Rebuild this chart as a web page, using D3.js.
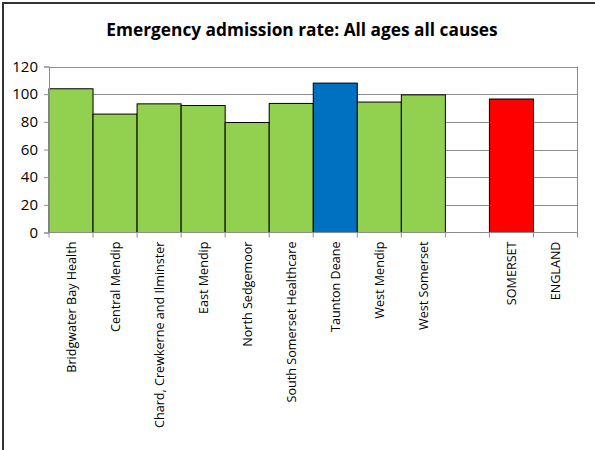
<!DOCTYPE html>
<html><head><meta charset="utf-8">
<script src="https://cdn.jsdelivr.net/npm/d3@7"></script>
<style>body{margin:0;background:#fff}svg{display:block}</style>
</head><body>
<script>
const categories = ["Bridgwater Bay Health","Central Mendip","Chard, Crewkerne and Ilminster","East Mendip","North Sedgemoor","South Somerset Healthcare","Taunton Deane","West Mendip","West Somerset","","SOMERSET","ENGLAND"];
const values = [103.9, 85.6, 93.0, 91.8, 79.5, 93.3, 108.0, 94.3, 99.5, null, 96.5, null];
const barColors = ["#92D050","#92D050","#92D050","#92D050","#92D050","#92D050","#0070C0","#92D050","#92D050","none","#FF0000","none"];
const yTicks = [0,20,40,60,80,100,120];
const title = "Emergency admission rate: All ages all causes";

const W=595,H=450;
const m={left:49,right:577.5,top:66.5,bottom:232.5};
const svg=d3.select("body").append("svg").attr("width",W).attr("height",H);
svg.append("rect").attr("x",3).attr("y",3).attr("width",W+20).attr("height",H+20).attr("fill","#fff").attr("stroke","#333").attr("stroke-width",2);
svg.append("text").attr("x",302).attr("y",36).attr("text-anchor","middle")
  .attr("font-family","'Open Sans',sans-serif").attr("font-weight","bold").attr("font-size",17.3).text(title);

const x=d3.scaleBand().domain(d3.range(categories.length)).range([m.left,m.right]).padding(0);
const y=d3.scaleLinear().domain([0,120]).range([m.bottom,m.top]);

// gridlines
svg.append("g").selectAll("line").data(yTicks.filter(t=>t>0)).join("line")
  .attr("x1",m.left).attr("x2",m.right).attr("y1",d=>Math.round(y(d))+0.5).attr("y2",d=>Math.round(y(d))+0.5)
  .attr("stroke","#8c8c8c").attr("stroke-width",1);
// right border
svg.append("line").attr("x1",m.right).attr("x2",m.right).attr("y1",m.top).attr("y2",m.bottom).attr("stroke","#8c8c8c");

// bars
svg.append("g").selectAll("rect").data(values.map((v,i)=>({v,i})).filter(d=>d.v!=null)).join("rect")
  .attr("x",d=>x(d.i)).attr("width",x.bandwidth()).attr("y",d=>y(d.v)).attr("height",d=>y(0)-y(d.v))
  .attr("fill",d=>barColors[d.i]).attr("stroke","#000").attr("stroke-width",1);

// y axis
const ya=svg.append("g").attr("transform",`translate(${m.left},0)`)
  .call(d3.axisLeft(y).tickValues(yTicks).tickSize(5).tickPadding(6));
ya.select(".domain").attr("stroke","#8c8c8c");
ya.selectAll(".tick line").attr("stroke","#8c8c8c");
ya.selectAll("text").attr("font-family","'Open Sans',sans-serif").attr("font-size",15).attr("fill","#000");

// x axis line and ticks at boundaries
svg.append("line").attr("x1",m.left).attr("x2",m.right).attr("y1",m.bottom).attr("y2",m.bottom).attr("stroke","#8c8c8c");
const bounds=d3.range(categories.length+1).map(i=>i<categories.length?x(i):m.right);
svg.append("g").selectAll("line").data(bounds).join("line")
  .attr("x1",d=>d).attr("x2",d=>d).attr("y1",m.bottom).attr("y2",m.bottom+5).attr("stroke","#8c8c8c");

// x labels
svg.append("g").selectAll("text").data(categories).join("text")
  .attr("transform",(d,i)=>`translate(${x(i)+x.bandwidth()/2+4.5},${m.bottom+9}) rotate(-90)`)
  .attr("text-anchor","end").attr("font-family","'Open Sans',sans-serif").attr("font-size",12.6).attr("fill","#000")
  .text(d=>d);
</script>
</body></html>
